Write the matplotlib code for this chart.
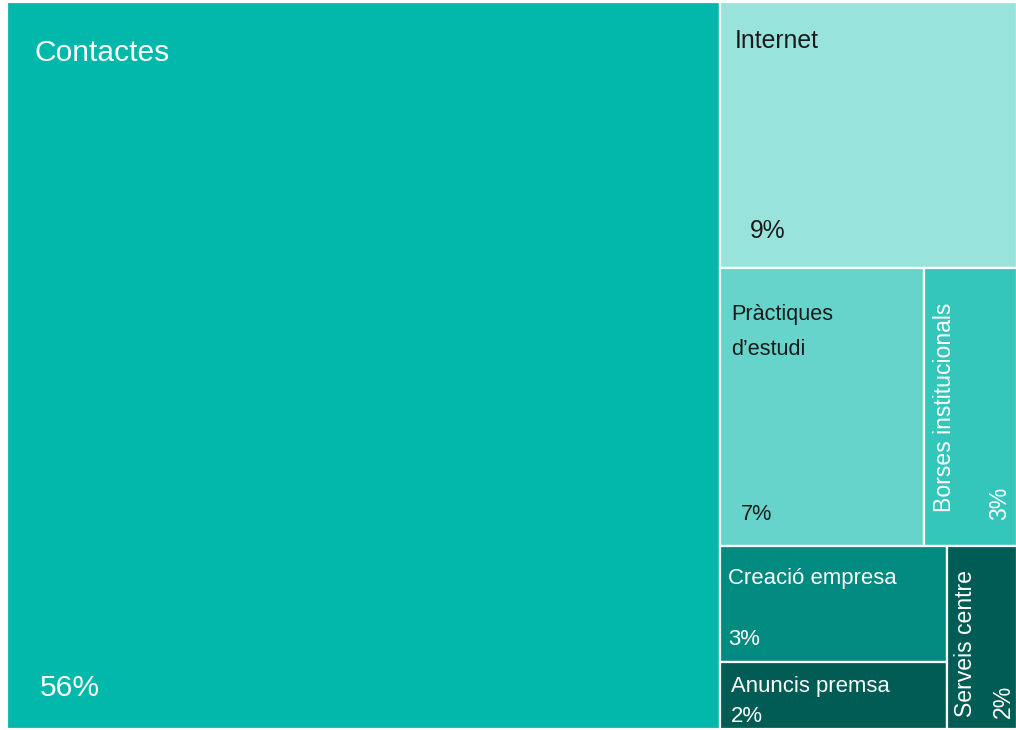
import matplotlib
matplotlib.use("Agg")
import matplotlib.pyplot as plt
from matplotlib.patches import Rectangle

# data: weights estimated from tile areas, labels as printed
categories = ["Contactes", "Internet", "Pràctiques\nd’estudi", "Borses institucionals",
              "Creació empresa", "Anuncis premsa", "Serveis centre"]
weights = [70.6, 10.75, 7.70, 3.53, 3.59, 2.08, 1.75]
pct_labels = ["56%", "9%", "7%", "3%", "3%", "2%", "2%"]

colors = ["#01B8AA", "#99E3DD", "#67D4CC", "#34C6BB", "#018A80", "#005C55", "#005C55"]
text_colors = ["white", "#1a1a1a", "#1a1a1a", "white", "white", "white", "white"]
font_sizes = [21.6, 17.8, 15.6, 16.6, 15.9, 15.9, 16.6]
vertical = [False, False, False, True, False, False, True]
# label/pct offsets in px: (label dx, label dy from top, pct dx, pct dy from bottom)
# for vertical tiles: dx is text centre, dy from bottom
offsets = [(28, 59, 33, 33), (15, 46, 30, 30), (11, 52, 21, 26), (21, 34, 76, 26),
           (8, 38, 8, 17), (11, 30, 11, 7), (18.5, 12, 56, 11)]

# split structure: 'v' = side by side, 'h' = stacked
tree = ('v', [0, ('h', [1, ('h', [('v', [2, 3]), ('v', [('h', [4, 5]), 6])])])])


def node_sum(node):
    if isinstance(node, int):
        return weights[node]
    return sum(node_sum(c) for c in node[1])


def layout(node, x, y, w, h, out):
    if isinstance(node, int):
        out[node] = (x, y, w, h)
        return
    direction, children = node
    total = node_sum(node)
    pos = 0.0
    for c in children:
        frac = node_sum(c) / total
        if direction == 'v':
            layout(c, x + pos * w, y, w * frac, h, out)
        else:
            layout(c, x, y + pos * h, w, h * frac, out)
        pos += frac


fig = plt.figure(figsize=(10.16, 7.30), dpi=100)
ax = fig.add_axes([0, 0, 1, 1])
ax.set_xlim(0, 1016)
ax.set_ylim(730, 0)
ax.axis('off')

rects = {}
layout(tree, 7, 2, 1010, 727, rects)

font = "Liberation Sans"
for i, name in enumerate(categories):
    x, y, w, h = rects[i]
    ax.add_patch(Rectangle((x, y), w, h, facecolor=colors[i], edgecolor="white", linewidth=1.6))
    ldx, ldy, pdx, pdy = offsets[i]
    kw = dict(color=text_colors[i], fontsize=font_sizes[i], family=font)
    if vertical[i]:
        ax.text(x + ldx, y + h - ldy, name, rotation=90, ha="center", va="bottom", **kw)
        ax.text(x + pdx, y + h - pdy, pct_labels[i], rotation=90, ha="center", va="bottom", **kw)
    else:
        lines = name.split("\n")
        for j, line in enumerate(lines):
            ax.text(x + ldx, y + ldy + j * 35, line, ha="left", va="baseline", **kw)
        ax.text(x + pdx, y + h - pdy, pct_labels[i], ha="left", va="baseline", **kw)

fig.savefig("out.png", dpi=100)
